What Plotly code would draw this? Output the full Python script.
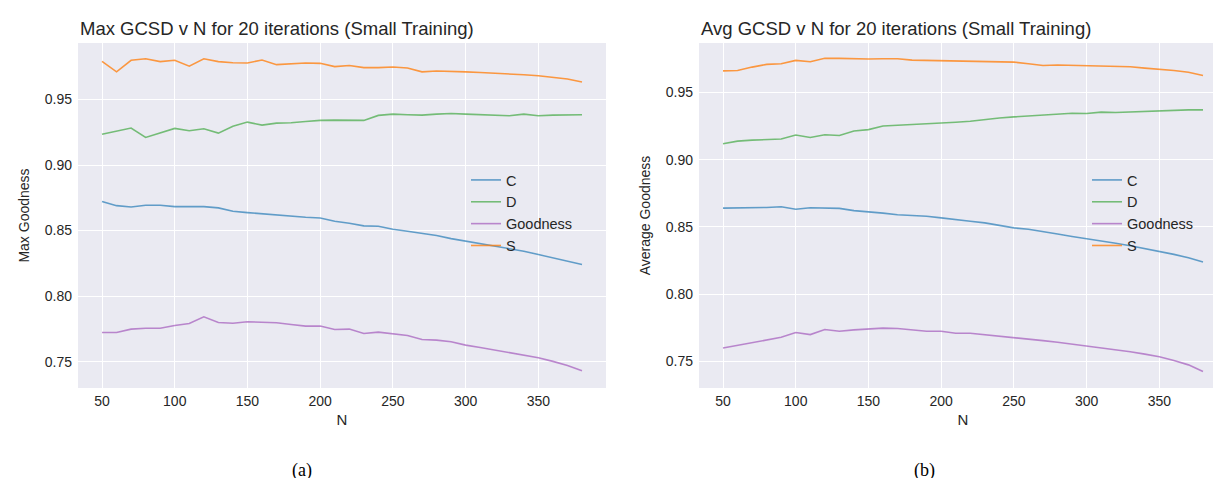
import plotly.graph_objects as go

N = list(range(50, 390, 10))

# Left panel: Max goodness
max_C = [0.8721, 0.8690, 0.8680, 0.8693, 0.8693, 0.8683, 0.8683, 0.8683, 0.8673, 0.8647,
         0.8637, 0.8627, 0.8622, 0.8612, 0.8602, 0.8596, 0.8571, 0.8556, 0.8536, 0.8533,
         0.8510, 0.8495, 0.8480, 0.8462, 0.8439, 0.8419, 0.8398, 0.8378, 0.8358, 0.8343,
         0.8317, 0.8292, 0.8266, 0.8241]
max_D = [0.9235, 0.9256, 0.9282, 0.9210, 0.9246, 0.9279, 0.9261, 0.9276, 0.9243, 0.9296,
         0.9327, 0.9304, 0.9319, 0.9322, 0.9332, 0.9340, 0.9342, 0.9340, 0.9340, 0.9378,
         0.9388, 0.9383, 0.9380, 0.9388, 0.9393, 0.9388, 0.9383, 0.9378, 0.9375, 0.9388,
         0.9375, 0.9380, 0.9383, 0.9383]
max_G = [0.7723, 0.7723, 0.7749, 0.7756, 0.7756, 0.7777, 0.7792, 0.7843, 0.7799, 0.7794,
         0.7805, 0.7802, 0.7797, 0.7784, 0.7772, 0.7772, 0.7746, 0.7749, 0.7716, 0.7726,
         0.7713, 0.7700, 0.7670, 0.7665, 0.7652, 0.7627, 0.7609, 0.7589, 0.7571, 0.7551,
         0.7530, 0.7503, 0.7472, 0.7431]
max_S = [0.9790, 0.9710, 0.9798, 0.9810, 0.9788, 0.9798, 0.9753, 0.9810, 0.9788, 0.9780,
         0.9778, 0.9800, 0.9765, 0.9770, 0.9778, 0.9775, 0.9750, 0.9758, 0.9742, 0.9742,
         0.9747, 0.9740, 0.9710, 0.9717, 0.9715, 0.9710, 0.9705, 0.9700, 0.9696, 0.9688,
         0.9680, 0.9670, 0.9655, 0.9632]

# Right panel: Average goodness
avg_C = [0.8640, 0.8640, 0.8640, 0.8645, 0.8650, 0.8631, 0.8643, 0.8643, 0.8638, 0.8621,
         0.8613, 0.8603, 0.8591, 0.8586, 0.8579, 0.8567, 0.8552, 0.8542, 0.8530, 0.8512,
         0.8493, 0.8483, 0.8468, 0.8448, 0.8429, 0.8414, 0.8397, 0.8379, 0.8360, 0.8340,
         0.8315, 0.8296, 0.8271, 0.8239]
avg_D = [0.9118, 0.9138, 0.9145, 0.9148, 0.9153, 0.9183, 0.9165, 0.9185, 0.9180, 0.9213,
         0.9223, 0.9250, 0.9255, 0.9260, 0.9263, 0.9273, 0.9278, 0.9285, 0.9300, 0.9310,
         0.9318, 0.9325, 0.9335, 0.9340, 0.9345, 0.9343, 0.9353, 0.9350, 0.9355, 0.9360,
         0.9363, 0.9365, 0.9370, 0.9370]
avg_G = [0.7600, 0.7620, 0.7643, 0.7665, 0.7680, 0.7715, 0.7700, 0.7738, 0.7725, 0.7735,
         0.7740, 0.7748, 0.7745, 0.7735, 0.7725, 0.7725, 0.7710, 0.7710, 0.7700, 0.7690,
         0.7680, 0.7668, 0.7655, 0.7643, 0.7630, 0.7613, 0.7603, 0.7588, 0.7573, 0.7555,
         0.7535, 0.7508, 0.7475, 0.7425]
avg_S = [0.9660, 0.9663, 0.9688, 0.9708, 0.9713, 0.9738, 0.9728, 0.9753, 0.9753, 0.9748,
         0.9748, 0.9750, 0.9750, 0.9740, 0.9738, 0.9738, 0.9733, 0.9735, 0.9728, 0.9728,
         0.9725, 0.9713, 0.9700, 0.9703, 0.9700, 0.9695, 0.9693, 0.9693, 0.9690, 0.9680,
         0.9673, 0.9663, 0.9650, 0.9625]

series_names = ["C", "D", "Goodness", "S"]
colors = ["rgba(31,119,180,0.68)", "rgba(44,160,44,0.62)", "rgba(160,85,185,0.68)", "rgba(255,127,14,0.78)"]

titles = ["Max GCSD v N for 20 iterations (Small Training)",
          "Avg GCSD v N for 20 iterations (Small Training)"]
ylabels = ["Max Goodness", "Average Goodness"]
captions = ["(a)", "(b)"]
caption_x = [294, 916]
x_ticks = [50, 100, 150, 200, 250, 300, 350]
y_ticks = [0.75, 0.80, 0.85, 0.90, 0.95]

W, H = 1221, 478
BG = "#EAEAF2"
FONT = "Liberation Sans, Arial, sans-serif"
TXT = "#262626"

fig = go.Figure()

panels = [
    dict(data=[max_C, max_D, max_G, max_S], xd=[70, 598], yr=[0.7300, 0.9930], leg="legend"),
    dict(data=[avg_C, avg_D, avg_G, avg_S], xd=[691, 1219], yr=[0.7303, 0.9867], leg="legend2"),
]
ytop, ybot = 35, 380
ydom = [1 - ybot / H, 1 - ytop / H]

for i, p in enumerate(panels):
    sfx = "" if i == 0 else "2"
    for name, vals, col in zip(series_names, p["data"], colors):
        fig.add_trace(go.Scatter(x=N, y=vals, name=name, mode="lines",
                                 line=dict(color=col, width=1.6),
                                 xaxis="x" + sfx, yaxis="y" + sfx, legend=p["leg"]))
    xdom = [p["xd"][0] / W, p["xd"][1] / W]
    fig.update_layout(**{
        "xaxis" + sfx: dict(domain=xdom, range=[33.5, 396.5], tickvals=x_ticks,
                            showgrid=True, gridcolor="white", gridwidth=1.2, zeroline=False,
                            showline=False, ticks="", ticklabelstandoff=3,
                            tickfont=dict(family=FONT, size=14, color=TXT),
                            title=dict(text="N", font=dict(family=FONT, size=15, color=TXT), standoff=6),
                            anchor="y" + sfx),
        "yaxis" + sfx: dict(domain=ydom, range=p["yr"], tickvals=y_ticks, tickformat=".2f",
                            showgrid=True, gridcolor="white", gridwidth=1.2, zeroline=False,
                            showline=False, ticks="", ticklabelstandoff=5,
                            tickfont=dict(family=FONT, size=14, color=TXT),
                            title=dict(text=ylabels[i], font=dict(family=FONT, size=14, color=TXT), standoff=11),
                            anchor="x" + sfx),
    })
    fig.add_annotation(x=xdom[0], y=1 - 20 / H, xref="paper", yref="paper",
                       text=titles[i], showarrow=False, xanchor="left", yanchor="middle",
                       font=dict(family=FONT, size=18.5, color=TXT))
    fig.add_annotation(x=caption_x[i] / W, y=1 - 462 / H, xref="paper", yref="paper",
                       text=captions[i], showarrow=False, xanchor="center", yanchor="middle",
                       font=dict(family="Liberation Serif, serif", size=18, color="black"))

legend_style = dict(bgcolor="rgba(0,0,0,0)", borderwidth=0, font=dict(family=FONT, size=14.5, color=TXT),
                    xanchor="left", yanchor="top", tracegroupgap=0, itemwidth=30)
fig.update_layout(
    width=W, height=H, margin=dict(l=0, r=0, t=0, b=0),
    paper_bgcolor="white", plot_bgcolor=BG, showlegend=True,
    legend=dict(x=458 / W, y=1 - 156 / H, **legend_style),
    legend2=dict(x=1079 / W, y=1 - 156 / H, **legend_style),
)

fig.write_html("out.html")
